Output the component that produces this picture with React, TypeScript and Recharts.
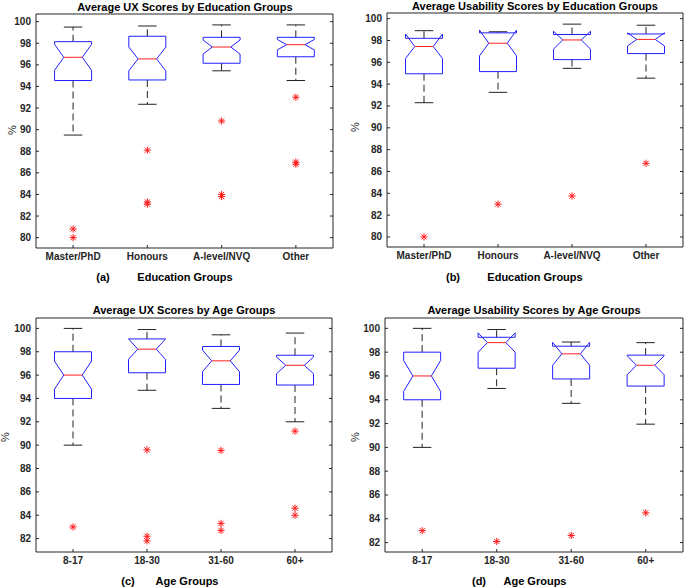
import React from 'react';
import { ComposedChart, Bar, Scatter, XAxis, YAxis, ReferenceArea } from 'recharts';

const eduGroups = ['Master/PhD', 'Honours', 'A-level/NVQ', 'Other'];
const ageGroups = ['8-17', '18-30', '31-60', '60+'];

// (a) UX scores by education
const uxEduLow = [89.5, 92.35, 95.45, 94.55];
const uxEduQ1 = [94.55, 94.6, 96.15, 96.75];
const uxEduNotchLow = [95.5, 95.45, 97.0, 97.38];
const uxEduMedian = [96.7, 96.55, 97.65, 97.87];
const uxEduNotchHigh = [97.9, 97.65, 98.3, 98.35];
const uxEduQ3 = [98.15, 98.65, 98.55, 98.55];
const uxEduHigh = [99.5, 99.6, 99.7, 99.7];
const uxEduOutliers = [[80.8, 80.0], [88.1, 83.3, 83.1], [90.8, 84.0, 83.8], [93.0, 87.0, 86.8]];

// (b) usability scores by education
const usEduLow = [92.3, 93.25, 95.45, 94.55];
const usEduQ1 = [94.95, 95.15, 96.25, 96.8];
const usEduNotchLow = [96.35, 96.6, 97.22, 97.5];
const usEduMedian = [97.45, 97.75, 98.05, 98.1];
const usEduNotchHigh = [98.6, 98.95, 98.85, 98.7];
const usEduQ3 = [98.2, 98.7, 98.55, 98.6];
const usEduHigh = [98.9, 98.8, 99.5, 99.4];
const usEduOutliers = [[80.0], [83.0], [83.75], [86.75]];

// (c) UX scores by age
const uxAgeLow = [90.0, 94.7, 93.15, 92.0];
const uxAgeQ1 = [94.0, 96.2, 95.2, 95.15];
const uxAgeNotchLow = [94.8, 97.35, 96.3, 96.12];
const uxAgeMedian = [96.0, 98.22, 97.22, 96.84];
const uxAgeNotchHigh = [97.2, 99.1, 98.14, 97.55];
const uxAgeQ3 = [98.0, 99.1, 98.45, 97.7];
const uxAgeHigh = [100.0, 99.9, 99.45, 99.6];
const uxAgeOutliers = [[83.0], [89.6, 82.2, 81.8], [89.55, 83.3, 82.7], [91.2, 84.6, 84.0]];

// (d) usability scores by age
const usAgeLow = [90.0, 94.95, 93.7, 91.95];
const usAgeQ1 = [94.0, 96.65, 95.75, 95.15];
const usAgeNotchLow = [94.7, 98.0, 96.9, 96.1];
const usAgeMedian = [96.0, 98.8, 97.86, 96.9];
const usAgeNotchHigh = [97.3, 99.62, 98.82, 97.7];
const usAgeQ3 = [98.0, 99.25, 98.5, 97.75];
const usAgeHigh = [100.0, 99.9, 98.85, 98.8];
const usAgeOutliers = [[83.0], [82.1], [82.6], [84.5]];

const eduTicks = [80, 82, 84, 86, 88, 90, 92, 94, 96, 98, 100];
const ageTicks = [82, 84, 86, 88, 90, 92, 94, 96, 98, 100];

const FONT = '"Liberation Sans", Arial, Helvetica, sans-serif';
const AXIS = '#262626';

interface BoxRow {
  name: string;
  lo: number;
  q1: number;
  nLo: number;
  med: number;
  nHi: number;
  q3: number;
  hi: number;
  o1: number | null;
  o2: number | null;
  o3: number | null;
}

function buildRows(
  cats: string[],
  lo: number[],
  q1: number[],
  nLo: number[],
  med: number[],
  nHi: number[],
  q3: number[],
  hi: number[],
  outs: number[][],
): BoxRow[] {
  return cats.map((name, i) => ({
    name,
    lo: lo[i],
    q1: q1[i],
    nLo: nLo[i],
    med: med[i],
    nHi: nHi[i],
    q3: q3[i],
    hi: hi[i],
    o1: outs[i][0] ?? null,
    o2: outs[i][1] ?? null,
    o3: outs[i][2] ?? null,
  }));
}

// notched box drawn inside the range bar [lo, hi]
function NotchBox(props: any) {
  const { x, y, width, height, payload } = props;
  if (!payload || width == null) return null;
  const top = Math.min(y, y + height);
  const bottom = Math.max(y, y + height);
  const span = payload.hi - payload.lo;
  const py = (v: number) => bottom - ((v - payload.lo) / span) * (bottom - top);
  const left = x;
  const right = x + width;
  const cx = x + width / 2;
  const d = width / 4;
  const pts = [
    [left, py(payload.q1)],
    [left, py(payload.nLo)],
    [left + d, py(payload.med)],
    [left, py(payload.nHi)],
    [left, py(payload.q3)],
    [right, py(payload.q3)],
    [right, py(payload.nHi)],
    [right - d, py(payload.med)],
    [right, py(payload.nLo)],
    [right, py(payload.q1)],
  ]
    .map((p) => p.join(','))
    .join(' ');
  return (
    <g>
      <line x1={cx} x2={cx} y1={py(payload.q3)} y2={py(payload.hi)} stroke="#222" strokeDasharray="7 4" />
      <line x1={cx} x2={cx} y1={py(payload.q1)} y2={py(payload.lo)} stroke="#222" strokeDasharray="7 4" />
      <line x1={cx - d} x2={cx + d} y1={py(payload.hi)} y2={py(payload.hi)} stroke="#222" />
      <line x1={cx - d} x2={cx + d} y1={py(payload.lo)} y2={py(payload.lo)} stroke="#222" />
      <polygon points={pts} fill="none" stroke="#2020ff" strokeWidth={1} />
      <line x1={left + d} x2={right - d} y1={py(payload.med)} y2={py(payload.med)} stroke="#ff2020" />
    </g>
  );
}

function Star(props: any) {
  const { cx, cy } = props;
  if (cx == null || cy == null || Number.isNaN(cy)) return null;
  const r = 3.6;
  const k = r * 0.72;
  return (
    <g stroke="#ff1a1a" strokeWidth={1}>
      <line x1={cx - r} x2={cx + r} y1={cy} y2={cy} />
      <line x1={cx} x2={cx} y1={cy - r} y2={cy + r} />
      <line x1={cx - k} x2={cx + k} y1={cy - k} y2={cy + k} />
      <line x1={cx - k} x2={cx + k} y1={cy + k} y2={cy - k} />
    </g>
  );
}

function LeftTick(props: any) {
  const { x, y, payload } = props;
  return (
    <g>
      <text x={x} y={y} dy={3.5} textAnchor="end" fontSize={10} fontWeight="bold" fill={AXIS} fontFamily={FONT}>
        {payload.value}
      </text>
      <line x1={x + 5} x2={x + 8} y1={y} y2={y} stroke={AXIS} />
    </g>
  );
}

function RightTick(props: any) {
  const { x, y } = props;
  return <line x1={x} x2={x - 3} y1={y} y2={y} stroke={AXIS} />;
}

function BottomTick(props: any) {
  const { x, y, payload } = props;
  return (
    <g>
      <text x={x} y={y} dy="0.71em" textAnchor="middle" fontSize={10} fontWeight="bold" fill={AXIS} fontFamily={FONT}>
        {payload.value}
      </text>
      <line x1={x} x2={x} y1={y - 5} y2={y - 8} stroke={AXIS} />
    </g>
  );
}

interface PanelProps {
  rows: BoxRow[];
  domain: [number, number];
  ticks: number[];
  left: number;
  top: number;
  width: number;
  height: number;
  plot: { l: number; t: number; r: number; b: number };
}

function Panel({ rows, domain, ticks, left, top, width, height, plot }: PanelProps) {
  const yW = 36;
  const xH = 20;
  return (
    <div style={{ position: 'absolute', left, top }}>
      <ComposedChart
        width={width}
        height={height}
        data={rows}
        barCategoryGap="25%"
        margin={{ top: plot.t, left: plot.l - yW, right: width - plot.r - 1, bottom: height - plot.b - xH }}
      >
        <XAxis
          dataKey="name"
          type="category"
          height={xH}
          axisLine={false}
          tickLine={false}
          tickSize={0}
          tickMargin={5}
          tick={<BottomTick />}
          interval={0}
        />
        <YAxis
          domain={domain}
          ticks={ticks}
          allowDataOverflow
          width={yW}
          axisLine={false}
          tickLine={false}
          tickSize={0}
          tickMargin={5}
          tick={<LeftTick />}
          interval={0}
        />
        <YAxis
          yAxisId="r"
          orientation="right"
          domain={domain}
          ticks={ticks}
          allowDataOverflow
          width={1}
          axisLine={false}
          tickLine={false}
          tickSize={0}
          tickMargin={0}
          tick={<RightTick />}
          interval={0}
        />
        <ReferenceArea y1={domain[0]} y2={domain[1]} fill="none" stroke={AXIS} strokeWidth={1} ifOverflow="visible" />
        <Bar dataKey={(d: BoxRow) => [d.lo, d.hi]} shape={<NotchBox />} isAnimationActive={false} />
        <Scatter dataKey="o1" shape={<Star />} isAnimationActive={false} />
        <Scatter dataKey="o2" shape={<Star />} isAnimationActive={false} />
        <Scatter dataKey="o3" shape={<Star />} isAnimationActive={false} />
      </ComposedChart>
    </div>
  );
}

const titleStyle = { fontFamily: FONT, fontWeight: 'bold' as const, fontSize: 11, fill: '#000' };

export default function App() {
  const rowsA = buildRows(eduGroups, uxEduLow, uxEduQ1, uxEduNotchLow, uxEduMedian, uxEduNotchHigh, uxEduQ3, uxEduHigh, uxEduOutliers);
  const rowsB = buildRows(eduGroups, usEduLow, usEduQ1, usEduNotchLow, usEduMedian, usEduNotchHigh, usEduQ3, usEduHigh, usEduOutliers);
  const rowsC = buildRows(ageGroups, uxAgeLow, uxAgeQ1, uxAgeNotchLow, uxAgeMedian, uxAgeNotchHigh, uxAgeQ3, uxAgeHigh, uxAgeOutliers);
  const rowsD = buildRows(ageGroups, usAgeLow, usAgeQ1, usAgeNotchLow, usAgeMedian, usAgeNotchHigh, usAgeQ3, usAgeHigh, usAgeOutliers);

  return (
    <div style={{ position: 'absolute', left: 0, top: 0, width: 685, height: 588, background: '#fff', overflow: 'hidden' }}>
      <Panel rows={rowsA} domain={[79.04, 100.71]} ticks={eduTicks} left={0} top={0} width={342} height={294} plot={{ l: 36, t: 14, r: 333, b: 248 }} />
      <Panel rows={rowsB} domain={[79.08, 100.52]} ticks={eduTicks} left={342} top={0} width={343} height={294} plot={{ l: 45, t: 13, r: 341, b: 247 }} />
      <Panel rows={rowsC} domain={[80.85, 100.89]} ticks={ageTicks} left={0} top={300} width={342} height={288} plot={{ l: 36, t: 18, r: 332, b: 252 }} />
      <Panel rows={rowsD} domain={[81.21, 100.87]} ticks={ageTicks} left={342} top={300} width={343} height={288} plot={{ l: 43, t: 18, r: 341, b: 252 }} />
      <svg width={685} height={588} style={{ position: 'absolute', left: 0, top: 0, pointerEvents: 'none' }}>
        <text x={185} y={11} textAnchor="middle" {...titleStyle}>Average UX Scores by Education Groups</text>
        <text x={535} y={10} textAnchor="middle" {...titleStyle}>Average Usability Scores by Education Groups</text>
        <text x={184} y={314} textAnchor="middle" {...titleStyle}>Average UX Scores by Age Groups</text>
        <text x={534} y={314} textAnchor="middle" {...titleStyle}>Average Usability Scores by Age Groups</text>

        <text x={103} y={281} textAnchor="middle" {...titleStyle}>(a)</text>
        <text x={185} y={281} textAnchor="middle" {...titleStyle}>Education Groups</text>
        <text x={453} y={281} textAnchor="middle" {...titleStyle}>(b)</text>
        <text x={535} y={281} textAnchor="middle" {...titleStyle}>Education Groups</text>
        <text x={128} y={585} textAnchor="middle" {...titleStyle}>(c)</text>
        <text x={187} y={585} textAnchor="middle" {...titleStyle}>Age Groups</text>
        <text x={479} y={585} textAnchor="middle" {...titleStyle}>(d)</text>
        <text x={535} y={585} textAnchor="middle" {...titleStyle}>Age Groups</text>

        <text transform="translate(16,130) rotate(-90)" textAnchor="middle" fontFamily={FONT} fontSize={11} fill={AXIS}>%</text>
        <text transform="translate(359,127) rotate(-90)" textAnchor="middle" fontFamily={FONT} fontSize={11} fill={AXIS}>%</text>
        <text transform="translate(9,437) rotate(-90)" textAnchor="middle" fontFamily={FONT} fontSize={11} fill={AXIS}>%</text>
        <text transform="translate(359,437) rotate(-90)" textAnchor="middle" fontFamily={FONT} fontSize={11} fill={AXIS}>%</text>
      </svg>
    </div>
  );
}
